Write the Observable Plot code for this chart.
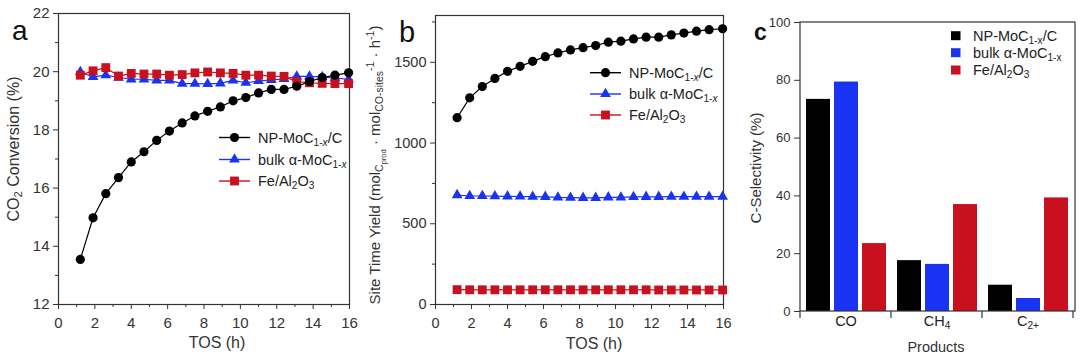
<!DOCTYPE html>
<html><head><meta charset="utf-8">
<script src="https://cdn.jsdelivr.net/npm/d3@7"></script>
<script src="https://cdn.jsdelivr.net/npm/@observablehq/plot@0.6"></script>
<style>
body{margin:0;background:#fff;}
#fig{position:relative;width:1081px;height:363px;overflow:hidden;background:#fff;}
.panel{position:absolute;top:0;}
</style></head><body><div id="fig"></div>
<script>
// ---------- data ----------
const tosHours = [1.2,1.9,2.6,3.3,4.0,4.7,5.4,6.1,6.8,7.5,8.2,8.9,9.6,10.3,11.0,11.7,12.4,13.1,13.8,14.5,15.2,15.95];
const convNP   = [13.55,14.98,15.81,16.36,16.90,17.25,17.64,17.96,18.24,18.48,18.64,18.79,19.00,19.11,19.27,19.39,19.39,19.50,19.66,19.80,19.88,19.96];
const convBulk = [19.99,19.82,19.88,19.80,19.74,19.74,19.70,19.70,19.59,19.59,19.58,19.60,19.70,19.62,19.68,19.72,19.75,19.84,19.84,19.82,19.78,19.74];
const convFe   = [19.88,20.03,20.14,19.85,19.94,19.92,19.92,19.88,19.90,19.96,19.99,19.96,19.94,19.88,19.88,19.85,19.84,19.66,19.62,19.60,19.59,19.59];
const styNP    = [1157,1280,1350,1400,1444,1475,1506,1535,1558,1577,1591,1604,1625,1631,1645,1656,1656,1670,1681,1693,1702,1708];
const styBulk  = [678,672,672,671,670,669,668,667,663,662,661,661,664,663,666,667,667,668,668,668,668,668];
const styFe    = [92,91,91,91,91,91,91,91,91,91,91,91,91,91,91,91,90,90,90,90,90,90];
const seriesNames = ["NP-MoC1-x/C", "bulk α-MoC1-x", "Fe/Al2O3"];
const products = ["CO", "CH4", "C2+"];
const selNP   = [73.4, 17.6, 9.1];
const selBulk = [79.4, 16.3, 4.5];
const selFe   = [23.5, 37.0, 39.3];
const convTicks = [12,14,16,18,20,22];
const styTicks = [0,500,1000,1500];
const selTicks = [0,20,40,60,80,100];
const tosTicks = [0,2,4,6,8,10,12,14,16];

// ---------- style ----------
const FONT = '"Liberation Sans", Arial, Helvetica, sans-serif';
const INK = "#333";
const colors = ["#000000", "#1a33f2", "#c8101e"];
const symbols = ["circle", "triangle", "square"];
const d3Symbols = {circle: d3.symbolCircle, triangle: d3.symbolTriangle, square: d3.symbolSquare};
const symR = [4.6, 4.0, 5.0];

// rich text parts for display
const richLabels = {
  "NP-MoC1-x/C": ["NP-MoC", ["1-", "sub"], ["x", "subit"], "/C"],
  "bulk α-MoC1-x": ["bulk α-MoC", ["1-", "sub"], ["x", "subit"]],
  "Fe/Al2O3": ["Fe/Al", ["2", "sub"], "O", ["3", "sub"]],
  "CO": ["CO"],
  "CH4": ["CH", ["4", "sub"]],
  "C2+": ["C", ["2+", "sub"]]
};

function rich(sel, parts, fs, plainItalic) {
  sel.text(null);
  for (const p of parts) {
    const [s, kind] = Array.isArray(p) ? p : [p];
    const t = sel.append("tspan").text(s);
    if (kind === "sub" || kind === "subit") {
      t.attr("font-size", (fs * 0.7) + "px").attr("baseline-shift", (-fs * 0.2) + "px");
      if (kind === "subit" && !plainItalic) t.attr("font-style", "italic");
    } else if (kind === "sup") {
      t.attr("font-size", (fs * 0.7) + "px").attr("baseline-shift", (fs * 0.42) + "px");
    } else if (kind === "subsub") {
      t.attr("font-size", (fs * 0.5) + "px").attr("baseline-shift", (-fs * 0.38) + "px");
    }
  }
}

function addText(svg, {x, y, parts, fs, anchor = "middle", rotate = false, weight = "normal", fill = INK, plainItalic = false}) {
  const t = svg.append("text")
    .attr("font-family", FONT).attr("font-size", fs + "px").attr("font-weight", weight)
    .attr("fill", fill).attr("text-anchor", anchor)
    .attr("transform", `translate(${x},${y})` + (rotate ? " rotate(-90)" : ""));
  rich(t, parts, fs, plainItalic);
  return t;
}

const rows = (ys) => tosHours.map((t, i) => ({t, v: ys[i]}));

function linePanel({series, yDomain, yTicks, yMinor, width, margins, fsTick}) {
  const marks = [Plot.frame({stroke: INK, strokeWidth: 1.2})];
  for (const k of [1, 2, 0]) {
    marks.push(Plot.line(rows(series[k]), {x: "t", y: "v", stroke: colors[k], strokeWidth: 1.2}));
    marks.push(Plot.dot(rows(series[k]), {x: "t", y: "v", symbol: symbols[k], r: symR[k], fill: colors[k], stroke: "none"}));
  }
  const minorX = tosTicks.slice(0, -1).map(d => d + 1);
  marks.push(
    Plot.axisX(tosTicks, {tickSize: 5, tickPadding: 8, label: null, fontSize: fsTick, stroke: INK, fill: INK}),
    Plot.axisX(minorX, {tickSize: 3, tickFormat: () => "", label: null, stroke: INK}),
    Plot.axisY(yTicks, {tickSize: 5, tickPadding: 4, label: null, fontSize: fsTick, stroke: INK, fill: INK, tickFormat: d3.format("d")}),
    Plot.axisY(yMinor, {tickSize: 3, tickFormat: () => "", label: null, stroke: INK})
  );
  return Plot.plot({
    width, height: 363,
    marginLeft: margins[0], marginRight: margins[1], marginTop: margins[2], marginBottom: margins[3],
    style: {fontFamily: FONT, fontSize: fsTick + "px", color: INK, background: "transparent", overflow: "visible"},
    x: {domain: [0, 16]},
    y: {domain: yDomain},
    marks
  });
}

// x0 is relative to the panel's own SVG
function lineLegend(svg, x0, rowsY, fs) {
  seriesNames.forEach((name, k) => {
    const y = rowsY[k];
    const g = svg.append("g");
    g.append("line").attr("x1", x0).attr("x2", x0 + 31).attr("y1", y).attr("y2", y)
      .attr("stroke", colors[k]).attr("stroke-width", 1.4);
    g.append("path").attr("d", d3.symbol(d3Symbols[symbols[k]], symR[k] * symR[k] * Math.PI)())
      .attr("transform", `translate(${x0 + 15.5},${y})`).attr("fill", colors[k]);
    addText(svg, {x: x0 + 39, y: y + 5, parts: richLabels[name], fs, anchor: "start", fill: "#222"});
  });
}

const fig = d3.select("#fig");

// ---------- panel a ----------
const pa = linePanel({series: [convNP, convBulk, convFe], yDomain: [12, 22], yTicks: convTicks,
  yMinor: [13,15,17,19,21], width: 360, margins: [58, 11, 13, 59], fsTick: 15});
{
  const s = d3.select(pa);
  addText(s, {x: 12, y: 40, parts: ["a"], fs: 28, anchor: "start", fill: "#111"});
  addText(s, {x: 19, y: 149, parts: ["CO", ["2", "sub"], " Conversion (%)"], fs: 16, rotate: true});
  addText(s, {x: 217, y: 348, parts: ["TOS (h)"], fs: 16});
  lineLegend(s, 219, [137.5, 159.5, 181], 14.5);
}
fig.append(() => pa).attr("class", "panel").style("left", "0px");

// ---------- panel b ----------
const pb = linePanel({series: [styNP, styBulk, styFe], yDomain: [0, 1790], yTicks: styTicks,
  yMinor: [250, 750, 1250, 1750], width: 380, margins: [75, 17, 15, 59], fsTick: 14.5});
{
  const s = d3.select(pb);
  addText(s, {x: 39, y: 42, parts: ["b"], fs: 29, anchor: "start", fill: "#111"});
  addText(s, {x: 20, y: 165, parts: ["Site Time Yield (mol", ["C", "sub"], ["prod", "subsub"], " · mol", ["CO-sites", "sub"], ["-1", "sup"], " · h", ["-1", "sup"], ")"], fs: 15, rotate: true});
  addText(s, {x: 234, y: 349, parts: ["TOS (h)"], fs: 16});
  lineLegend(s, 230, [72.7, 94, 115], 14.5);
}
fig.append(() => pb).attr("class", "panel").style("left", "360px");

// ---------- panel c ----------
const selBySeries = [selNP, selBulk, selFe];
const dataC = products.flatMap((p, i) => seriesNames.map((s, j) => ({product: p, series: s, value: selBySeries[j][i]})));
const pc = Plot.plot({
  width: 341, height: 363,
  marginLeft: 60, marginRight: 8, marginTop: 22, marginBottom: 52,
  style: {fontFamily: FONT, fontSize: "13px", color: INK, background: "transparent", overflow: "visible"},
  fx: {domain: products, padding: 0, label: null},
  x: {domain: seriesNames, padding: 0.15, axis: null},
  y: {domain: [0, 100]},
  color: {domain: seriesNames, range: colors},
  marks: [
    Plot.barY(dataC, {fx: "product", x: "series", y: "value", fill: "series"}),
    Plot.axisY(selTicks, {tickSize: 6, tickPadding: 4, label: null, fontSize: 13, stroke: INK, fill: INK}),
    Plot.axisFx({anchor: "bottom", tickSize: 0, tickPadding: 4, label: null, fontSize: 14.5, fill: "#222"})
  ]
});
{
  const s = d3.select(pc);
  const fx = pc.scale("fx");
  const x0 = 60, x1 = 341 - 8, y0 = 22, y1 = 363 - 52;
  s.append("rect").attr("x", x0).attr("y", y0).attr("width", x1 - x0 + 2).attr("height", y1 - y0)
    .attr("fill", "none").attr("stroke", INK).attr("stroke-width", 1.2);
  const bounds = products.map(p => fx.apply(p)).concat([fx.apply(products[products.length - 1]) + fx.bandwidth]);
  bounds.forEach(b => s.append("line").attr("x1", b).attr("x2", b).attr("y1", y1).attr("y2", y1 + 7)
    .attr("stroke", INK).attr("stroke-width", 1.2));
  s.selectAll('g[aria-label="fx-axis tick label"] text').each(function () {
    const txt = d3.select(this).text();
    if (richLabels[txt]) rich(d3.select(this), richLabels[txt], 14.5, true);
  });
  addText(s, {x: 14, y: 40, parts: ["c"], fs: 23, anchor: "start", weight: "bold", fill: "#111"});
  addText(s, {x: 21, y: 168, parts: ["C-Selectivity (%)"], fs: 15, rotate: true});
  addText(s, {x: 196, y: 352, parts: ["Products"], fs: 14.5});
  seriesNames.forEach((name, k) => {
    const y = [35.7, 52.7, 70][k];
    s.append("rect").attr("x", 211).attr("y", y - 4.5).attr("width", 9.5).attr("height", 9)
      .attr("fill", colors[k]);
    addText(s, {x: 233, y: y + 5, parts: richLabels[name], fs: 14.5, anchor: "start", fill: "#222", plainItalic: true});
  });
}
fig.append(() => pc).attr("class", "panel").style("left", "740px");
</script></body></html>
